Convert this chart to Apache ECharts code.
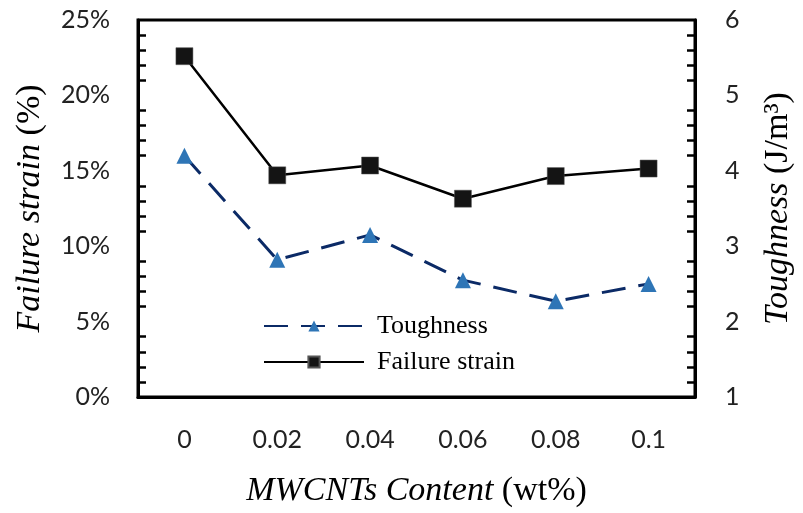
<!DOCTYPE html>
<html>
    <head>
        <meta charset="utf-8">
        <script src="https://cdn.jsdelivr.net/npm/echarts@6/dist/echarts.min.js"></script>
        <style>
            html, body {
                margin: 0;
                padding: 0;
                background: #fff;
            }
            #main {
                width: 803px;
                height: 513px;
            }
        </style>
    </head>
    <body>
        <div id="main"></div>

        <script>
            // MWCNTs content (wt%)
            var categories = ['0', '0.02', '0.04', '0.06', '0.08', '0.1'];
            // failure strain, % (left axis)
            var failureStrain = [22.6, 14.7, 15.35, 13.15, 14.65, 15.15];
            // toughness, J/m3 (right axis)
            var toughness = [4.2, 2.82, 3.15, 2.55, 2.27, 2.5];

            var sans = 'Lato';
            var serif = 'Liberation Serif';

            var chart = echarts.init(document.getElementById('main'));

            var tick = {inside: true, length: 8, lineStyle: {color: '#000', width: 2.5}};
            var minor = {show: true, splitNumber: 5, length: 8, lineStyle: {color: '#000', width: 2.5}};
            // italic title, upright unit part
            var titleStyle = {
                fontFamily: serif,
                fontStyle: 'italic',
                fontWeight: 'normal',
                fontSize: 34,
                color: '#000',
                rich: {
                    rm: {fontFamily: serif, fontStyle: 'normal', fontWeight: 'normal', fontSize: 34, color: '#000'}
                }
            };

            chart.setOption({
                animation: false,
                grid: {
                    left: 138,
                    right: 98,
                    top: 20,
                    bottom: 110,
                    show: true,
                    borderColor: '#000',
                    borderWidth: 3
                },
                legend: {
                    orient: 'vertical',
                    left: 258,
                    top: 308,
                    itemWidth: 100,
                    itemHeight: 14,
                    itemGap: 10,
                    textStyle: {
                        fontFamily: serif,
                        fontSize: 26,
                        color: '#000',
                        padding: [0, 0, 0, 8]
                    },
                    data: ['Toughness', 'Failure strain']
                },
                xAxis: {
                    type: 'category',
                    data: categories,
                    axisLine: {lineStyle: {color: '#000', width: 3}},
                    axisTick: {inside: true, alignWithLabel: true, length: 8, lineStyle: {color: '#000', width: 2.5}},
                    axisLabel: {fontFamily: sans, fontSize: 25, color: '#222', margin: 30},
                    name: 'MWCNTs Content {rm|(wt%)}',
                    nameLocation: 'middle',
                    nameGap: 77,
                    nameTextStyle: titleStyle
                },
                yAxis: [{
                    type: 'value',
                    min: 0,
                    max: 25,
                    interval: 5,
                    position: 'left',
                    axisLine: {show: true, lineStyle: {color: '#000', width: 3}},
                    axisTick: tick,
                    minorTick: minor,
                    splitLine: {show: false},
                    axisLabel: {fontFamily: sans, fontSize: 25, color: '#222', margin: 28, formatter: '{value}%'},
                    name: 'Failure strain {rm|(%)}',
                    nameLocation: 'middle',
                    nameRotate: 90,
                    nameGap: 91,
                    nameTextStyle: titleStyle
                }, {
                    type: 'value',
                    min: 1,
                    max: 6,
                    interval: 1,
                    position: 'right',
                    axisLine: {show: true, lineStyle: {color: '#000', width: 3}},
                    axisTick: tick,
                    minorTick: minor,
                    splitLine: {show: false},
                    axisLabel: {fontFamily: sans, fontSize: 25, color: '#222', margin: 30},
                    name: 'Toughness {rm|(J/m³)}',
                    nameLocation: 'middle',
                    nameRotate: 90,
                    nameGap: 66,
                    nameTextStyle: titleStyle
                }],
                series: [{
                    name: 'Failure strain',
                    type: 'line',
                    yAxisIndex: 0,
                    data: failureStrain,
                    symbol: 'rect',
                    symbolSize: 17,
                    lineStyle: {color: '#000', width: 2.5},
                    itemStyle: {color: '#141414', borderColor: '#555', borderWidth: 0.5}
                }, {
                    name: 'Toughness',
                    type: 'line',
                    yAxisIndex: 1,
                    data: toughness,
                    symbol: 'triangle',
                    symbolSize: 16,
                    lineStyle: {color: '#0b2a66', width: 3, type: [24, 13]},
                    itemStyle: {color: '#2e75b6'}
                }]
            });
        </script>
    </body>
</html>
